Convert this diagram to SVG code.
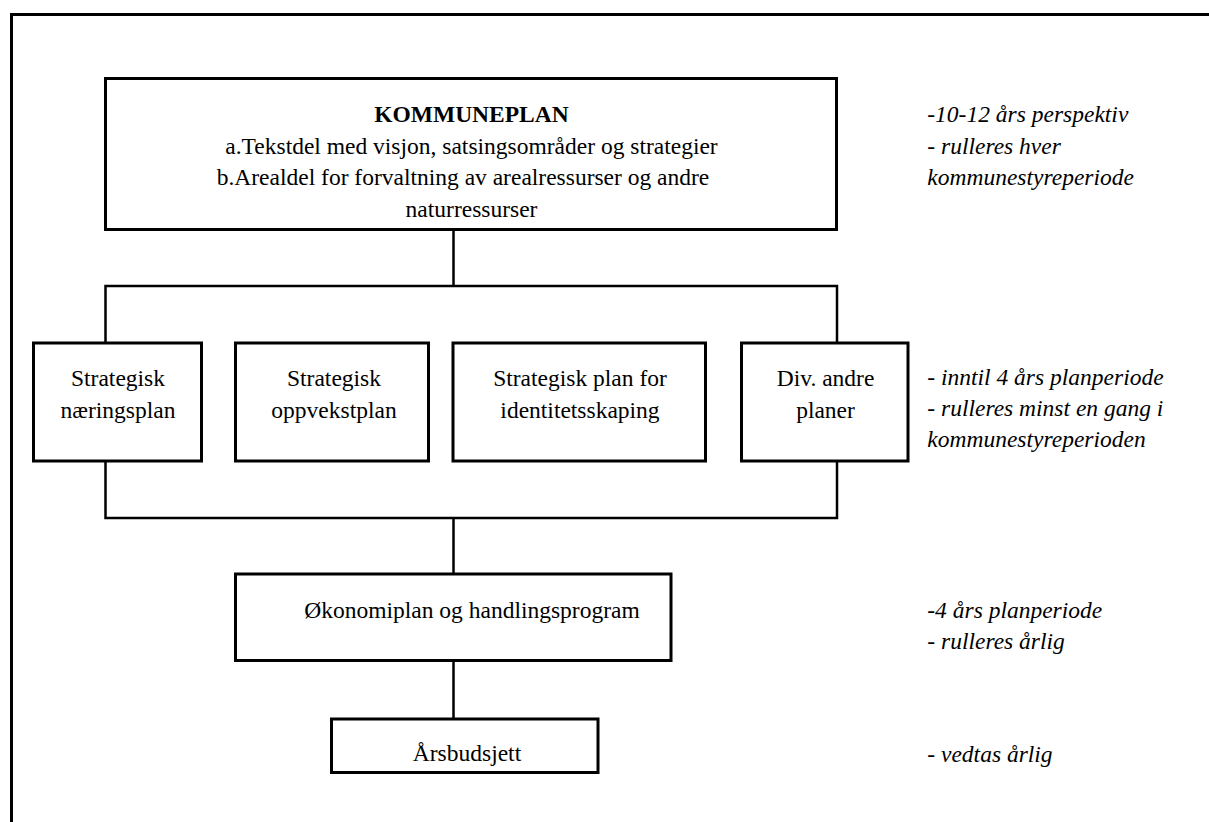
<svg xmlns="http://www.w3.org/2000/svg" width="1209" height="822" viewBox="0 0 1209 822">
<style>
.box{fill:#fff;stroke:#000;stroke-width:3}
.conn{fill:none;stroke:#000;stroke-width:2.5}
.t{font-family:"Liberation Serif","Times New Roman",serif;font-size:23.5px;fill:#000}
.c{text-anchor:middle}
.b{font-weight:bold}
.i{font-style:italic}
</style>
<rect width="1209" height="822" fill="#fff"/>
<rect id="frame" x="11.5" y="14.5" width="1220" height="830" fill="none" stroke="#000" stroke-width="3"/>
<g id="connectors">
<line class="conn" x1="453.5" y1="229.5" x2="453.5" y2="286"/>
<rect class="conn" x="105.5" y="286" width="731.5" height="232"/>
<line class="conn" x1="453.5" y1="518" x2="453.5" y2="574"/>
<line class="conn" x1="453.5" y1="660" x2="453.5" y2="719"/>
</g>
<g id="kommuneplan">
<rect class="box" x="105.5" y="78.5" width="731" height="151"/>
<text class="t c b" x="471.5" y="122.3">KOMMUNEPLAN</text>
<text class="t c" x="471.5" y="154">a.Tekstdel med visjon, satsingsområder og strategier</text>
<text class="t c" x="463" y="185.3">b.Arealdel for forvaltning av arealressurser og andre</text>
<text class="t c" x="471.5" y="216.7">naturressurser</text>
</g>
<g id="naeringsplan">
<rect class="box" x="33.5" y="343" width="168" height="118"/>
<text class="t c" x="118" y="386">Strategisk</text>
<text class="t c" x="118" y="417.5">næringsplan</text>
</g>
<g id="oppvekstplan">
<rect class="box" x="235.5" y="343" width="193" height="118"/>
<text class="t c" x="334" y="386">Strategisk</text>
<text class="t c" x="334" y="417.5">oppvekstplan</text>
</g>
<g id="identitet">
<rect class="box" x="453" y="343" width="252.5" height="118"/>
<text class="t c" x="580" y="386">Strategisk plan for</text>
<text class="t c" x="580" y="417.5">identitetsskaping</text>
</g>
<g id="andre">
<rect class="box" x="741.5" y="343" width="166.5" height="118"/>
<text class="t c" x="825.5" y="386">Div. andre</text>
<text class="t c" x="825.5" y="417.5">planer</text>
</g>
<g id="okonomiplan">
<rect class="box" x="235.5" y="574" width="435.5" height="86.5"/>
<text class="t c" x="472" y="617.7">Økonomiplan og handlingsprogram</text>
</g>
<g id="arsbudsjett">
<rect class="box" x="331.5" y="719" width="266.5" height="53.5"/>
<text class="t c" x="467" y="760.7">Årsbudsjett</text>
</g>
<g id="notes">
<text class="t i" x="927.3" y="122.3">-10-12 års perspektiv</text>
<text class="t i" x="927.3" y="154">- rulleres hver</text>
<text class="t i" x="927.3" y="185.3">kommunestyreperiode</text>
<text class="t i" x="927.3" y="385">- inntil 4 års planperiode</text>
<text class="t i" x="927.3" y="416">- rulleres minst en gang i</text>
<text class="t i" x="927.3" y="446.7">kommunestyreperioden</text>
<text class="t i" x="927.3" y="618.3">-4 års planperiode</text>
<text class="t i" x="927.3" y="649.3">- rulleres årlig</text>
<text class="t i" x="927.3" y="761.7">- vedtas årlig</text>
</g>
</svg>
